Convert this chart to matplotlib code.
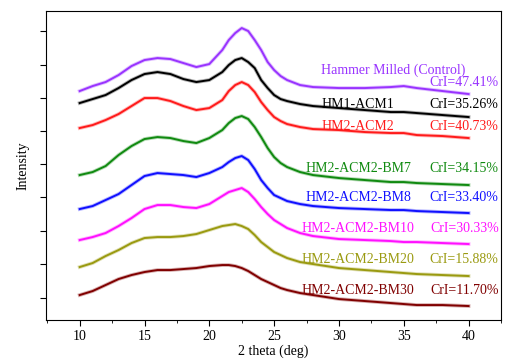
import matplotlib.pyplot as plt
import matplotlib.patheffects as pe
from matplotlib.ticker import MultipleLocator

plt.rcParams['font.family'] = ['Liberation Serif', 'DejaVu Serif']

# 2 theta sample positions (deg)
two_theta = [10, 11, 12, 13, 14, 15, 16, 17, 18, 19, 20, 21, 21.5, 22, 22.5, 23,
             23.5, 24, 24.5, 25, 25.5, 26, 27, 28, 30, 32, 34, 35, 36, 38, 40]

# intensities (arbitrary units, curves offset)
hm_control = [229, 234, 238, 245, 254, 260, 262, 261, 257, 253, 256, 270, 280, 287, 292, 289,
              280, 270, 258, 250, 244, 240, 235, 233, 232, 232, 233, 234, 232, 229, 226]
hm1_acm1 = [217, 221, 225, 232, 240, 246, 248, 246, 241, 238, 240, 248, 255, 260, 262, 258,
            252, 240, 232, 225, 221, 219, 216, 214, 212, 210, 208, 208, 207, 205, 203]
hm2_acm2 = [192, 195, 200, 206, 214, 222, 222, 219, 214, 210, 212, 220, 229, 235, 238, 235,
            228, 218, 210, 203, 199, 196, 193, 191, 190, 188, 187, 187, 185, 184, 182]
bm7 = [145, 148, 154, 165, 174, 181, 183, 182, 179, 177, 182, 190, 197, 202, 204, 201,
       193, 183, 172, 163, 157, 153, 148, 145, 142, 140, 138, 138, 137, 136, 135]
bm8 = [111, 114, 120, 126, 135, 144, 147, 146, 145, 143, 147, 153, 158, 162, 164, 160,
       151, 140, 132, 125, 122, 119, 116, 114, 112, 111, 110, 110, 109, 108, 107]
bm10 = [80, 83, 87, 94, 102, 111, 115, 115, 113, 112, 116, 124, 128, 130, 132, 128,
        121, 113, 106, 100, 96, 92, 87, 84, 81, 80, 79, 78, 78, 77, 76]
bm20 = [53, 57, 64, 70, 77, 82, 83, 83, 84, 86, 90, 94, 95, 96, 94, 91,
        85, 78, 73, 68, 65, 62, 58, 56, 52, 50, 48, 47, 46, 45, 44]
bm30 = [25, 29, 35, 41, 45, 48, 50, 50, 51, 52, 54, 55, 55, 54, 52, 49,
        45, 41, 38, 35, 32, 30, 27, 25, 21, 19, 17, 16, 15, 15, 14]

series = [hm_control, hm1_acm1, hm2_acm2, bm7, bm8, bm10, bm20, bm30]
names = ['HM1-ACM1', 'HM2-ACM2', 'HM2-ACM2-BM7', 'HM2-ACM2-BM8',
         'HM2-ACM2-BM10', 'HM2-ACM2-BM20', 'HM2-ACM2-BM30']
crl = ['CrI=47.41%', 'CrI=35.26%', 'CrI=40.73%', 'CrI=34.15%',
       'CrI=33.40%', 'CrI=30.33%', 'CrI=15.88%', 'CrI=11.70%']
colors = ['#9933ff', 'black', '#ff1a1a', '#108a10', '#1010ff',
          '#ff10ff', '#9a9a10', '#800000']

# label rows (data y) for name/CrI text
name_y = [216, 194, 152, 123, 92, 61, 30]

fig = plt.figure(figsize=(5.19, 3.6), dpi=100)
ax = fig.add_axes([0.0886, 0.111, 0.8767, 0.8583])

for ys, c in zip(series, colors):
    ax.plot(two_theta, ys, color=c, lw=1.4, solid_joinstyle='round',
            path_effects=[pe.Stroke(linewidth=2.7, foreground=c, alpha=0.3), pe.Normal()])

fs = 10
ax.text(0.762, 0.807, 'Hammer Milled (Control)', transform=ax.transAxes,
        color=colors[0], fontsize=fs, ha='center', va='center')
ax.text(0.995, 0.768, crl[0], transform=ax.transAxes,
        color=colors[0], fontsize=fs, ha='right', va='center')
for n, cr, c, yy in zip(names, crl[1:], colors[1:], name_y):
    ax.text(0.686, yy / 309, n, transform=ax.transAxes, color=c,
            fontsize=fs, ha='center', va='center')
    ax.text(0.995, yy / 309, cr, transform=ax.transAxes, color=c,
            fontsize=fs, ha='right', va='center')

ax.set_xlim(7.4, 42.5)
ax.set_ylim(0, 309)
ax.set_xticks([10, 15, 20, 25, 30, 35, 40])
ax.xaxis.set_minor_locator(MultipleLocator(2.5))
ax.set_yticks([22, 56, 89, 123, 156, 189, 222, 255, 289])
ax.set_yticklabels([])
ax.tick_params(direction='out', length=4, labelsize=10)
ax.tick_params(which='minor', direction='out', length=2.5)
ax.set_xlabel('2 theta (deg)', fontsize=10, labelpad=1)
ax.set_ylabel('Intensity', fontsize=10)

fig.savefig('out.png', dpi=100)
